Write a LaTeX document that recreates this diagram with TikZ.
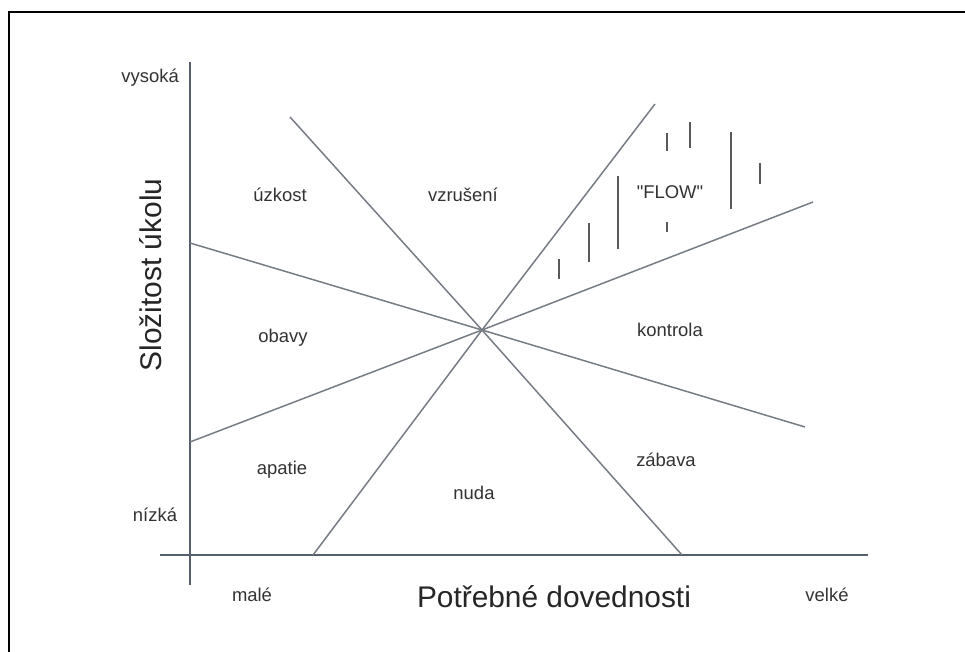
\documentclass[tikz,border=0pt]{standalone}
\usepackage{fontspec}
\setmainfont{Liberation Sans}
\newfontfamily\plainquotes{Liberation Sans}
\usepackage{xcolor}
\usetikzlibrary{positioning}
\definecolor{axisgray}{RGB}{86,96,108}
\definecolor{linegray}{RGB}{118,124,132}
\definecolor{textgray}{RGB}{50,50,50}
\tikzset{
  framestroke/.style={draw=black, line width=1.7pt},
  axisline/.style={draw=axisgray, line width=1.4pt},
  zoneline/.style={draw=linegray, line width=0.85pt},
  zonelabel/.style={font=\fontsize{10.5}{12}\selectfont, text=textgray, inner sep=1pt},
  axistitle/.style={font=\fontsize{17}{20}\selectfont, text=black!85, inner sep=1pt},
  hatchline/.style={draw=black!65, line width=0.9pt}
}

\begin{document}
\begin{tikzpicture}[x=0.02cm, y=-0.02cm]
  \useasboundingbox (0,0) rectangle (965,652);
  \draw[framestroke] (9,652) -- (9,12) -- (965,12);

  % axes
  \coordinate (ytop) at (190,62);
  \coordinate (ybot) at (190,585);
  \coordinate (xleft) at (160,555);
  \coordinate (xright) at (868,555);
  \draw[axisline] (ybot) -- (ytop);
  \draw[axisline] (xleft) -- (xright);

  % zone boundaries through one point
  \coordinate (mid) at (482,330);
  \coordinate (steepA) at (290,117);
  \coordinate (steepB) at (682,555);
  \coordinate (riseA) at (313,555);
  \coordinate (riseB) at (655,104);
  \coordinate (flatA) at (190,243);
  \coordinate (flatB) at (805,427);
  \coordinate (liftA) at (190,442);
  \coordinate (liftB) at (813,202);
  \draw[zoneline] (steepA) -- (mid) -- (steepB);
  \draw[zoneline] (riseA) -- (mid) -- (riseB);
  \draw[zoneline] (flatA) -- (mid) -- (flatB);
  \draw[zoneline] (liftA) -- (mid) -- (liftB);

  % flow hatching
  \foreach \hx/\hya/\hyb in {559/259/279, 589/223/262, 618/176/249, 667/133/151,
                             690/122/148, 731/132/209, 760/163/184, 667/222/232}
    \draw[hatchline] (\hx,\hya) -- (\hx,\hyb);

  % axis texts
  \node[zonelabel, anchor=east] (high) at (181,78) {vysoká};
  \node[zonelabel] (low) at (155,515) {nízká};
  \node[zonelabel] (small) at (252,595) {malé};
  \node[zonelabel] (large) at (827,595) {velké};
  \node[axistitle, rotate=90] (ytitle) at (151,275) {Složitost úkolu};
  \node[axistitle] (xtitle) at (554,597) {Potřebné dovednosti};

  % zones
  \node[zonelabel] (anxiety) at (280,195) {úzkost};
  \node[zonelabel] (arousal) at (463,195) {vzrušení};
  \node[zonelabel] (flow) at (670,192) {\plainquotes "FLOW"};
  \node[zonelabel] (worry) at (283,338) {obavy};
  \node[zonelabel] (control) at (670,330) {kontrola};
  \node[zonelabel] (apathy) at (282,470) {apatie};
  \node[zonelabel] (boredom) at (474,493) {nuda};
  \node[zonelabel] (relax) at (666,460) {zábava};
\end{tikzpicture}
\end{document}
